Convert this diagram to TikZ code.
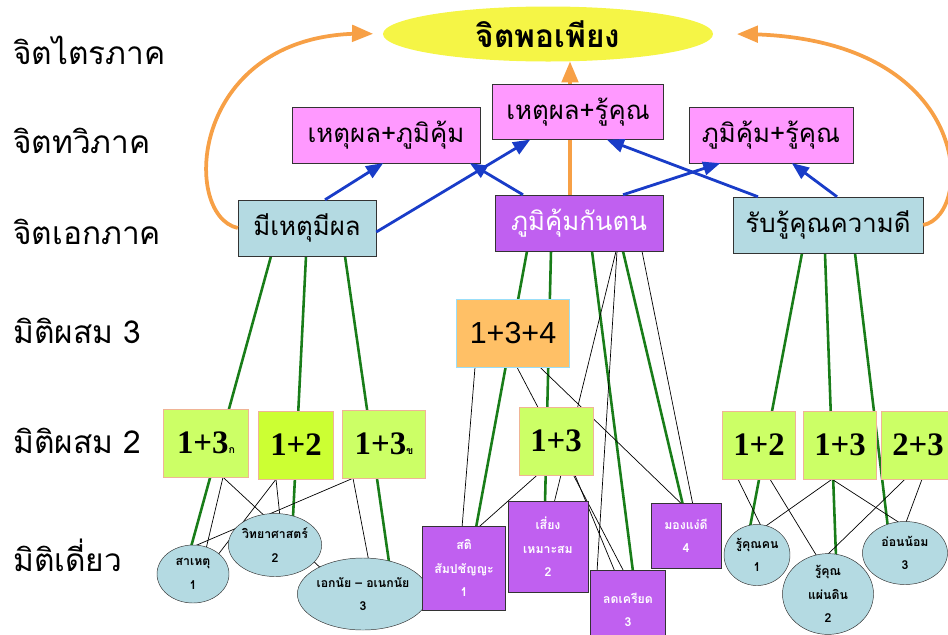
\documentclass[tikz,border=0pt]{standalone}
\usepackage{fontspec}
\setmainfont{Liberation Sans}
\newfontfamily\thai[Script=Thai]{Loma}
\newfontfamily\numserif{Liberation Serif}
\usetikzlibrary{arrows,shapes.geometric,calc,backgrounds}
\definecolor{pinkbox}{RGB}{255,153,255}
\definecolor{bluebox}{RGB}{180,218,226}
\definecolor{purplebox}{RGB}{192,96,240}
\definecolor{limebox}{RGB}{204,255,102}
\definecolor{limedark}{RGB}{204,255,51}
\definecolor{orangebox}{RGB}{255,192,102}
\definecolor{sunny}{RGB}{245,245,70}
\definecolor{arcorange}{RGB}{247,160,70}
\definecolor{arrowblue}{RGB}{25,60,200}
\definecolor{linegreen}{RGB}{25,125,25}
\definecolor{peach}{RGB}{240,180,150}

\begin{document}
\begin{tikzpicture}[
  x=0.03cm, y=-0.03cm, >=triangle 45,
  levelname/.style={anchor=west, inner sep=0pt, font=\thai\fontsize{27}{30}\selectfont},
  topmind/.style={ellipse, fill=sunny, minimum width=9.9cm, minimum height=1.65cm, font=\thai\bfseries\fontsize{27}{30}\selectfont},
  pairbox/.style={rectangle, draw=black!80, fill=pinkbox, minimum height=1.68cm, font=\thai\fontsize{22}{24}\selectfont},
  onebox/.style={rectangle, draw=black!80, fill=bluebox, minimum height=1.68cm, font=\thai\fontsize{22}{24}\selectfont},
  combothree/.style={rectangle, draw=cyan!40, fill=orangebox, minimum width=3.39cm, minimum height=2.04cm, font=\fontsize{26}{30}\selectfont},
  combotwo/.style={rectangle, draw=peach, fill=limebox, minimum height=2.04cm, font=\numserif\bfseries\fontsize{28}{32}\selectfont},
  single/.style={ellipse, draw=black!80, fill=bluebox, inner sep=0pt, align=center, font=\thai\bfseries\fontsize{10.5}{20}\selectfont},
  singlebox/.style={rectangle, draw=black!80, fill=purplebox, text=white, inner sep=0pt, align=center, font=\thai\bfseries\fontsize{10.5}{20}\selectfont},
  greenline/.style={draw=linegreen, line width=2.2pt},
  blackline/.style={draw=black, line width=0.6pt},
  bluearrow/.style={draw=arrowblue, line width=2.4pt, ->},
  orangearrow/.style={draw=arcorange, line width=3.2pt, ->}
]
\useasboundingbox (0,0) rectangle (948,634);

% level names
\node[levelname] (l6) at (13,50) {จิตไตรภาค};
\node[levelname] (l5) at (13,141) {จิตทวิภาค};
\node[levelname] (l4) at (13,232) {จิตเอกภาค};
\node[levelname] (l3) at (13,331) {มิติผสม 3};
\node[levelname] (l2) at (13,441) {มิติผสม 2};
\node[levelname] (l1) at (13,555) {มิติเดี่ยว};

\node[topmind] (pp) at (548,34) {จิตพอเพียง};

\node[pairbox, minimum width=5.64cm] (hp) at (386,135) {เหตุผล+ภูมิคุ้ม};
\node[pairbox, minimum width=5.13cm, minimum height=1.65cm] (hr) at (578,112) {เหตุผล+รู้คุณ};
\node[pairbox, minimum width=4.92cm] (pr) at (771,135) {ภูมิคุ้ม+รู้คุณ};

\node[onebox, minimum width=4.14cm] (mh) at (307,228) {มีเหตุมีผล};
\node[onebox, fill=purplebox, text=white, minimum width=5.04cm] (kan) at (579,223) {ภูมิคุ้มกันตน};
\node[onebox, minimum width=5.7cm] (rb) at (828,225) {รับรู้คุณความดี};

\node[combothree] (c134) at (513,333) {1+3+4};

\node[combotwo, minimum width=2.55cm] (ca) at (206,443) {1+3{\thai\fontsize{9}{9}\selectfont ก}};
\node[combotwo, fill=limedark, minimum width=2.25cm] (cb) at (296,445) {1+2};
\node[combotwo, minimum width=2.49cm] (cc) at (384,444) {1+3{\thai\fontsize{9}{9}\selectfont ข}};
\node[combotwo, minimum width=2.22cm] (cm) at (556,441) {1+3};
\node[combotwo, minimum width=2.19cm] (cd) at (759,445) {1+2};
\node[combotwo, minimum width=2.19cm] (ce) at (840,445) {1+3};
\node[combotwo, minimum width=2.22cm] (cf) at (918,445) {2+3};

\node[single, minimum width=2.16cm, minimum height=1.74cm] (e1) at (193,574) {สาเหตุ\\1};
\node[single, minimum width=2.52cm, minimum height=1.89cm] (e2) at (275,545) {วิทยาศาสตร์\\2};
\node[single, minimum width=3.39cm, minimum height=2.16cm] (e3) at (363,594) {เอกนัย – อเนกนัย\\3};

\node[singlebox, minimum width=2.49cm, minimum height=2.52cm] (s1) at (464,568) {สติ\\สัมปชัญญะ\\1};
\node[singlebox, minimum width=2.4cm, minimum height=2.73cm] (s2) at (548,547) {เสี่ยง\\เหมาะสม\\2};
\node[singlebox, minimum width=2.25cm, minimum height=2.4cm] (s3) at (628,610) {ลดเครียด\\3};
\node[singlebox, minimum width=2.1cm, minimum height=1.95cm] (s4) at (686,536) {มองแง่ดี\\4};

\node[single, minimum width=1.98cm, minimum height=1.83cm] (r1) at (757,555) {รู้คุณคน\\1};
\node[single, minimum width=2.73cm, minimum height=2.4cm] (r2) at (828,594) {รู้คุณ\\แผ่นดิน\\2};
\node[single, minimum width=2.55cm, minimum height=1.89cm] (r3) at (905,553) {อ่อนน้อม\\3};

\begin{scope}[on background layer]
% left group
\draw[greenline] ($(mh.south)+(-36,0)$) -- ($(e1)+(-2,-27)$);
\draw[greenline] ($(mh.south)+(-1,0)$) -- ($(e2)+(18,-28)$);
\draw[greenline] ($(mh.south)+(38,0)$) -- ($(e3)+(27,-25)$);
\draw[blackline] ($(ca.south)+(17,0)$) -- ($(e1)+(13,-25)$);
\draw[blackline] ($(ca.south)+(17,0)$) -- ($(e3)+(-38,-22)$);
\draw[blackline] ($(cb.south)+(-20,0)$) -- ($(e1)+(24,-18)$);
\draw[blackline] ($(cb.south)+(-20,0)$) -- ($(e2)+(5,-28)$);
\draw[blackline] ($(cc.south)+(-31,0)$) -- ($(e1)+(-3,-26)$);
\draw[blackline] ($(cc.south)+(-31,0)$) -- ($(e3)+(6,-32)$);
% middle group
\draw[greenline] ($(kan.south)+(-52,0)$) -- ($(s1.north)+(12,2)$);
\draw[greenline] ($(kan.south)+(-28,0)$) -- ($(s2.north)+(-3,2)$);
\draw[greenline] ($(kan.south)+(13,0)$) -- ($(s3.north)+(5,2)$);
\draw[greenline] ($(kan.south)+(44,0)$) -- ($(s4.north)+(-3,2)$);
\draw[blackline] ($(kan.south)+(37,0)$) -- ($(s2.north)+(6,2)$);
\draw[blackline] ($(kan.south)+(38,0)$) -- ($(s3.north)+(-31,2)$);
\draw[blackline] ($(kan.south)+(63,0)$) -- ($(s4.north)+(7,2)$);
\draw[blackline] ($(c134.south)+(-38,0)$) -- ($(s1.north)+(-2,2)$);
\draw[blackline] ($(c134.south)+(4,0)$) -- ($(s3.north)+(-4,2)$);
\draw[blackline] ($(c134.south)+(27,0)$) -- ($(s4.north)+(-3,2)$);
\draw[blackline] ($(cm.south)+(-19,0)$) -- ($(s1.north)+(14,2)$);
\draw[blackline] ($(cm.south)+(19,0)$) -- ($(s3.north)+(-13,2)$);
% right group
\draw[greenline] ($(rb.south)+(-26,0)$) -- ($(r1)+(-7,-28)$);
\draw[greenline] ($(rb.south)+(-3,0)$) -- ($(r2)+(8,-37)$);
\draw[greenline] ($(rb.south)+(27,0)$) -- ($(r3)+(-17,-25)$);
\draw[blackline] ($(cd.south)+(-21,0)$) -- ($(r1)+(5,-27)$);
\draw[blackline] ($(cd.south)+(11,0)$) -- ($(r2)+(-10,-36)$);
\draw[blackline] ($(ce.south)+(-8,0)$) -- ($(r1)+(6,-27)$);
\draw[blackline] ($(ce.south)+(-8,0)$) -- ($(r3)+(-2,-28)$);
\draw[blackline] ($(cf.south)+(-13,0)$) -- ($(r2)+(-3,-37)$);
\draw[blackline] ($(cf.south)+(4,0)$) -- ($(r3)+(0,-28)$);
\end{scope}

% arrows up
\draw[bluearrow] ($(mh.north)+(18,0)$) -- ($(hp.south)+(-3,0)$);
\draw[bluearrow] ($(mh.east)+(0,4)$) -- ($(hr.south)+(-48,0)$);
\draw[bluearrow] ($(kan.north)+(-56,0)$) -- ($(hp.south)+(84,0)$);
\draw[bluearrow] ($(kan.north)+(44,0)$) -- ($(pr.south)+(-51,0)$);
\draw[bluearrow] ($(rb.north)+(-70,0)$) -- ($(hr.south)+(29,0)$);
\draw[bluearrow] ($(rb.north)+(9,0)$) -- ($(pr.south)+(21,0)$);

\draw[draw=arcorange, line width=3.2pt] ($(kan.north)+(-9,0)$) -- ($(hr.south)+(-8,0)$);
\draw[orangearrow] ($(hr.north)+(-8,0)$) -- ($(pp.south)+(22,0)$);
\draw[orangearrow, shorten >=0.3cm] (mh.west) .. controls +(-58,-13) and +(-193,-4) .. (pp.west);
\draw[orangearrow, shorten >=0.72cm] (rb.east) .. controls +(52,-10) and +(262,1) .. (pp.east);
\end{tikzpicture}
\end{document}
